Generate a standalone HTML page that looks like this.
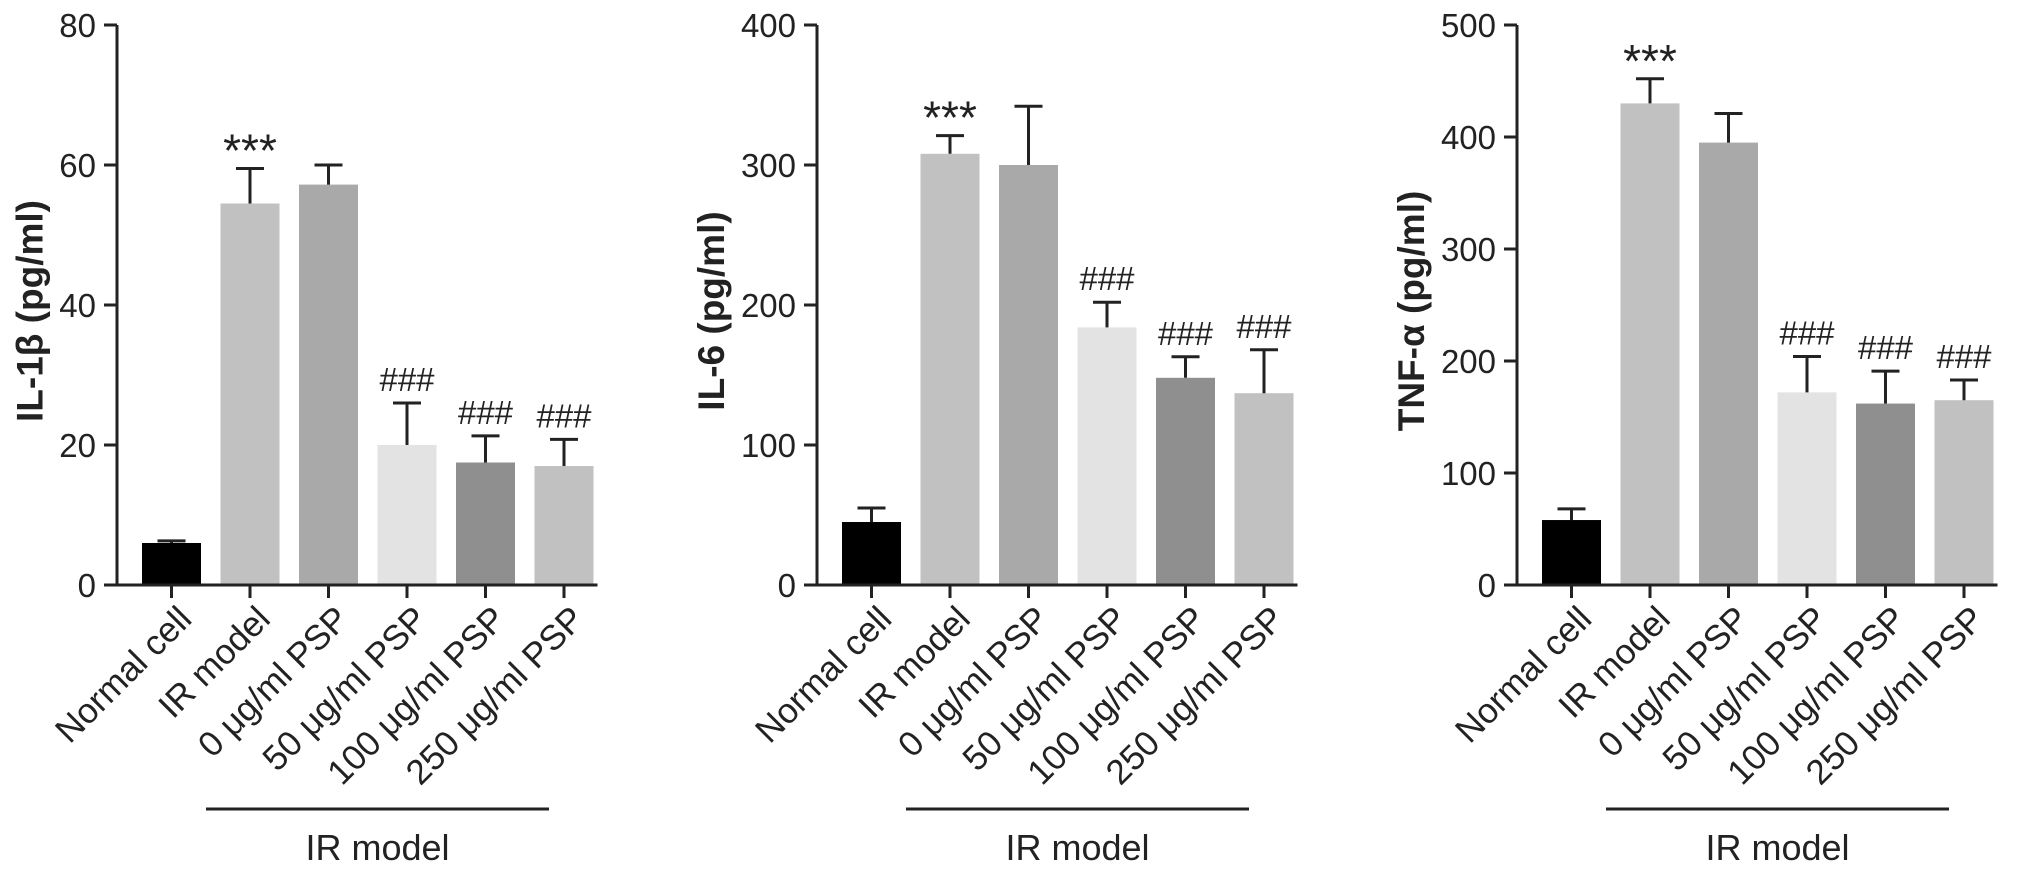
<!DOCTYPE html>
<html><head><meta charset="utf-8">
<style>
html,body{margin:0;padding:0;background:#fff;}
svg{display:block;font-family:"Liberation Sans",Arial,sans-serif;}
</style></head>
<body>
<svg id="chart" width="2031" height="875" viewBox="0 0 2031 875" xmlns="http://www.w3.org/2000/svg"></svg>
<script>
const categories = ["Normal cell","IR model","0 μg/ml PSP","50 μg/ml PSP","100 μg/ml PSP","250 μg/ml PSP"];
const il1bValues = [6, 54.5, 57.2, 20, 17.5, 17];
const il1bErrors = [0.3, 5, 2.8, 6, 3.8, 3.8];
const il6Values = [45, 308, 300, 184, 148, 137];
const il6Errors = [10, 13, 42, 18, 15, 31];
const tnfValues = [58, 430, 395, 172, 162, 165];
const tnfErrors = [10, 22, 26, 32, 29, 18];
const annotations = ["", "***", "", "###", "###", "###"];
const il1bTicks = [0, 20, 40, 60, 80];
const il6Ticks = [0, 100, 200, 300, 400];
const tnfTicks = [0, 100, 200, 300, 400, 500];
const barColors = ["#000000","#c1c1c1","#a9a9a9","#e3e3e3","#8f8f8f","#c1c1c1"];

const svg = document.getElementById('chart');
const NS = "http://www.w3.org/2000/svg";
function mk(tag, attrs, parent){
  const e = document.createElementNS(NS, tag);
  for (const k in attrs) e.setAttribute(k, attrs[k]);
  (parent||svg).appendChild(e);
  return e;
}
const TOP = 25, Y0 = 585;
function drawPanel(ax, title, values, errors, ticks, key){
  const g = mk('g', {});
  
  
  const ymax = ticks[ticks.length-1];
  const y = v => Y0 - (v / ymax) * (Y0 - TOP);
  const pitch = 78.5, bw = 59, firstLeft = ax + 25;
  const cx = i => firstLeft + i * pitch + bw / 2;
  const axisEnd = firstLeft + 5 * pitch + bw + 4;
  values.forEach((v, i) => {
    const r = mk('rect', {x: cx(i) - bw/2, y: y(v), width: bw, height: Y0 - y(v), fill: barColors[i]}, g);
    
    
    const top = y(v + errors[i]);
    const eb = mk('path', {d: `M${cx(i)} ${y(v)} V${top} M${cx(i)-14} ${top} H${cx(i)+14}`, stroke: '#222', 'stroke-width': 3, fill: 'none'}, g);
    
    
    if (annotations[i]) {
      const star = annotations[i] === '***';
      const t = mk('text', {x: cx(i), y: top - (star ? 2 : 12), 'text-anchor': 'middle', 'font-size': star ? 46 : 33, fill: '#222'}, g);
      t.textContent = annotations[i];
      
      
    }
    mk('line', {x1: cx(i), x2: cx(i), y1: Y0, y2: Y0 + 13, stroke: '#222', 'stroke-width': 3}, g);
    const lbl = mk('text', {x: 0, y: 0, 'text-anchor': 'end', 'font-size': 35, fill: '#222', transform: `translate(${cx(i)+22},${Y0+36}) rotate(-45)`}, g);
    lbl.textContent = categories[i];
    
    
  });
  const axes = mk('path', {d: `M${ax} ${TOP} V${Y0} H${axisEnd}`, stroke: '#222', 'stroke-width': 3, fill: 'none'}, g);
  
  
  ticks.forEach(tv => {
    mk('line', {x1: ax - 13, x2: ax, y1: y(tv), y2: y(tv), stroke: '#222', 'stroke-width': 3}, g);
    const t = mk('text', {x: ax - 21, y: y(tv) + 12, 'text-anchor': 'end', 'font-size': 33, fill: '#222'}, g);
    t.textContent = tv;
    
    
  });
  const labelW = String(ymax).length * 0.556 * 33;
  const yt = mk('text', {x: 0, y: 0, 'text-anchor': 'middle', 'font-size': 37, 'font-weight': 'bold', fill: '#222', transform: `translate(${ax - 38 - labelW},${(TOP+Y0)/2 + 6}) rotate(-90)`}, g);
  yt.textContent = title;
  
  
  const bx1 = ax + 89, bx2 = ax + 432;
  const br = mk('line', {x1: bx1, x2: bx2, y1: 809, y2: 809, stroke: '#222', 'stroke-width': 3}, g);
  
  
  const gl = mk('text', {x: (bx1+bx2)/2, y: 860, 'text-anchor': 'middle', 'font-size': 36, fill: '#222'}, g);
  gl.textContent = 'IR model';
  
  
}
drawPanel(117, 'IL-1β (pg/ml)', il1bValues, il1bErrors, il1bTicks, 'il1b');
drawPanel(817, 'IL-6 (pg/ml)', il6Values, il6Errors, il6Ticks, 'il6');
drawPanel(1517, 'TNF-α (pg/ml)', tnfValues, tnfErrors, tnfTicks, 'tnf');
</script>
</body></html>
